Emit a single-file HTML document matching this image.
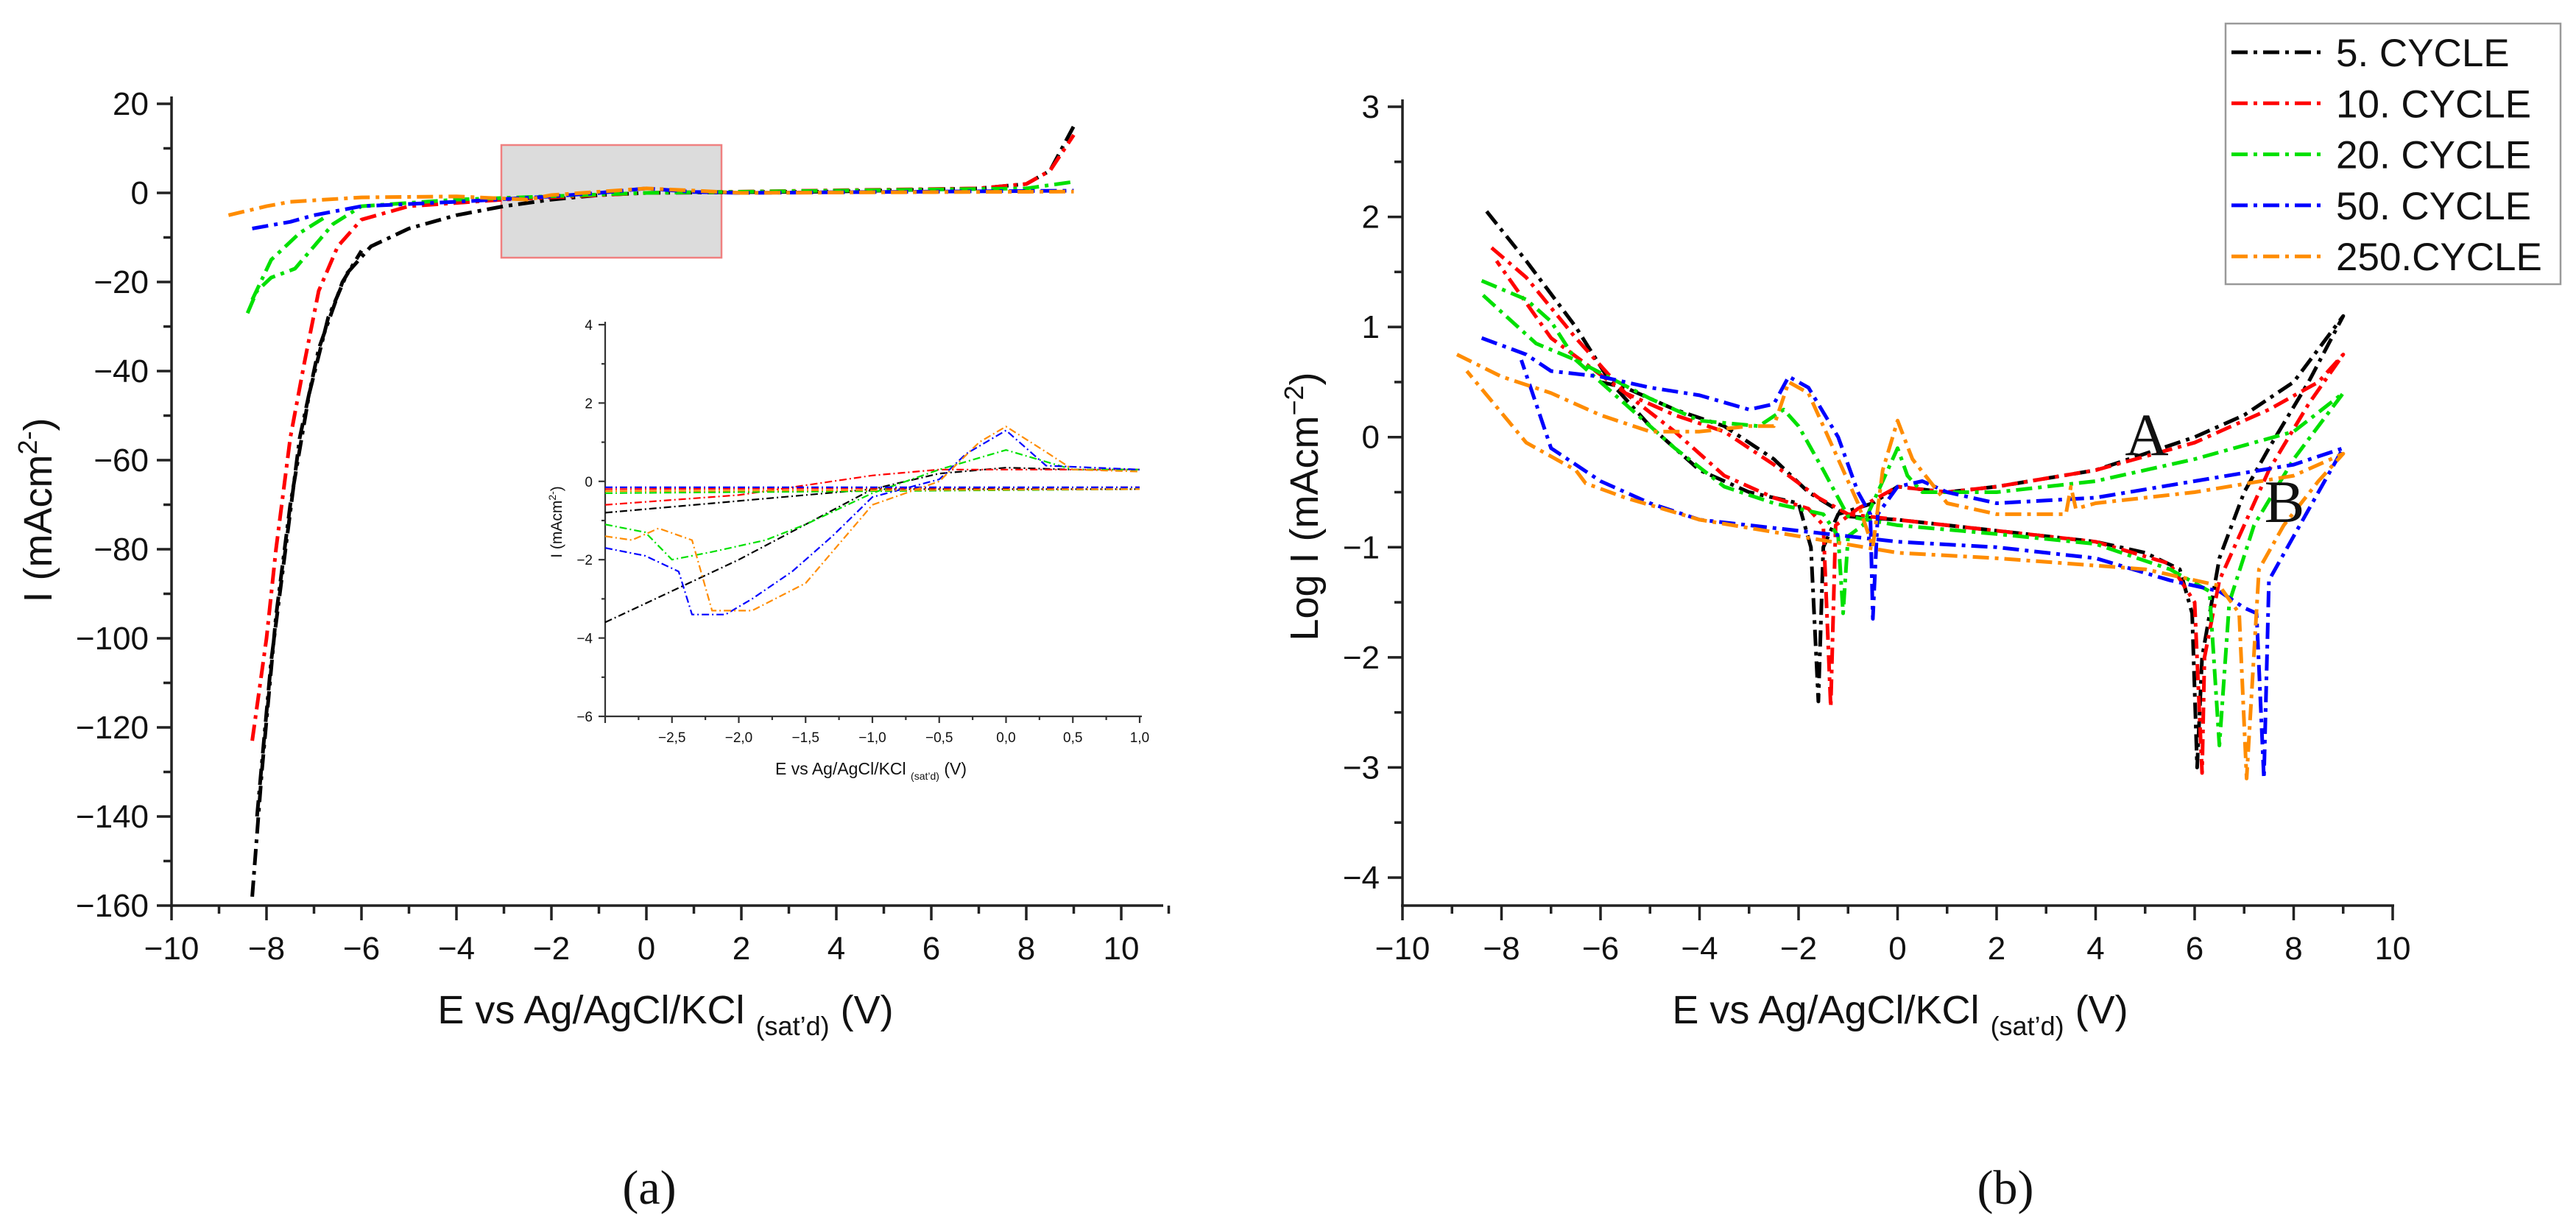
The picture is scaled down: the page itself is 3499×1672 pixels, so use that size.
<!DOCTYPE html>
<html><head><meta charset="utf-8"><style>
html,body{margin:0;padding:0;background:#fff;width:3499px;height:1672px;overflow:hidden}
svg{display:block}
</style></head><body>
<svg id="fig" width="3499" height="1672" viewBox="0 0 3499 1672" xmlns="http://www.w3.org/2000/svg" font-family="Liberation Sans, Arial, sans-serif">
<rect width="3499" height="1672" fill="#fff"/>
</svg>
<script>
// ---------- data ----------
const seriesNames = ["5. CYCLE","10. CYCLE","20. CYCLE","50. CYCLE","250.CYCLE"];
const seriesColors = ["#000000","#ff0000","#00e000","#0000ff","#ff8c00"];
// Panel (a): E (V) vs I (mAcm-2)
const aBlack = [[-8.3,-158],[-8.1,-130],[-7.8,-95],[-7.5,-70],[-7.1,-45],[-6.7,-28],[-6.3,-18],[-5.8,-12],[-5,-8],[-4,-5],[-3,-3],[-2,-1.5],[-1,-0.5],[0,0],[4,0.3],[7,1],[8,2],[8.5,5],[9,15]];
const aBlack2 = [[-8.2,-140],[-7.9,-105],[-7.6,-80],[-7.3,-55],[-6.9,-35],[-6.4,-20],[-6,-13]];
const aRed = [[-8.3,-123],[-8,-100],[-7.8,-80],[-7.5,-55],[-7.2,-38],[-6.9,-22],[-6.5,-12],[-6,-6],[-5,-3],[-3,-1.5],[0,0],[7,1],[8,2],[8.5,5],[9,13]];
const aGreen = [[-8.4,-27],[-8.2,-22],[-7.9,-19],[-7.4,-17],[-7,-12],[-6.6,-7],[-6,-3],[-4,-1.5],[0,0],[8,1],[9,2.5]];
const aGreen2 = [[-8.3,-24],[-7.9,-15],[-7.3,-9],[-6.7,-5]];
const aBlue = [[-8.3,-8],[-7.5,-6.5],[-7,-5],[-6,-3],[-4,-2],[-2,-0.8],[-1,0],[0,1],[1,0.2],[2,0],[9,0.5]];
const aOrange = [[-8.8,-5],[-8,-3],[-7.5,-2],[-6,-1],[-4,-0.8],[-2.5,-1.5],[-2,-0.5],[0,1],[2,0],[9,0.3]];
// Inset (a)
const iBlack = [[-3,-3.6],[-2.5,-2.8],[-2,-2.0],[-1.5,-1.1],[-1,-0.2],[-0.5,0.2],[0,0.35],[0.5,0.3],[1,0.3]];
const iBlack2 = [[-3,-0.8],[-2,-0.5],[-1,-0.2],[1,-0.2]];
const iRed = [[-3,-0.6],[-2,-0.35],[-1.5,-0.1],[-1,0.15],[-0.5,0.3],[1,0.3]];
const iRed2 = [[-3,-0.2],[1,-0.15]];
const iGreen = [[-3,-1.1],[-2.7,-1.3],[-2.5,-2.0],[-2.2,-1.8],[-1.8,-1.5],[-1.5,-1.1],[-1,-0.3],[-0.5,0.3],[0,0.8],[0.3,0.5],[0.5,0.3],[1,0.3]];
const iGreen2 = [[-3,-0.3],[1,-0.2]];
const iBlue = [[-3,-1.7],[-2.7,-1.9],[-2.45,-2.3],[-2.35,-3.4],[-2.1,-3.4],[-1.9,-3.0],[-1.6,-2.3],[-1.3,-1.4],[-1,-0.4],[-0.5,0.05],[-0.3,0.7],[0,1.3],[0.3,0.4],[1,0.3]];
const iBlue2 = [[-3,-0.15],[1,-0.15]];
const iOrange = [[-3,-1.4],[-2.8,-1.5],[-2.6,-1.2],[-2.35,-1.5],[-2.2,-3.3],[-1.9,-3.3],[-1.5,-2.6],[-1,-0.6],[-0.5,0],[-0.2,1.0],[0,1.4],[0.3,0.75],[0.5,0.3],[1,0.25]];
const iOrange2 = [[-3,-0.25],[1,-0.2]];
// Panel (b): E vs log I
const bBlack = [[-8.3,2.05],[-7.5,1.6],[-6.5,1.0],[-5.8,0.5],[-5,0.1],[-4,-0.3],[-3,-0.5],[-2,-0.6],[-1.75,-1.0],[-1.6,-2.4],[-1.5,-1.0],[-1.2,-0.7],[-0.5,-0.6],[0,-0.45],[1,-0.5],[2,-0.45],[4,-0.3],[5,-0.15],[6,0],[7,0.2],[8,0.5],[9,1.1],[8.3,0.5],[7.5,-0.1],[7,-0.5],[6.5,-1.1],[6.15,-2.0],[6.05,-3.0],[5.95,-1.6],[5.7,-1.2],[5,-1.05],[4,-0.95],[2,-0.85],[0,-0.75],[-1,-0.72],[-1.8,-0.5],[-2.5,-0.2],[-3.5,0.1],[-4.5,0.25],[-5.5,0.45],[-6,0.5]];
const bRed = [[-8.2,1.72],[-7.5,1.45],[-6.5,0.9],[-5.5,0.4],[-4.5,0.05],[-3.5,-0.35],[-2.5,-0.55],[-1.8,-0.65],[-1.5,-0.8],[-1.35,-2.45],[-1.25,-0.8],[-0.8,-0.65],[0,-0.45],[1,-0.5],[2,-0.45],[4,-0.3],[6,-0.05],[7.5,0.25],[8.5,0.5],[9,0.75],[8.3,0.3],[7.5,-0.3],[7,-0.8],[6.5,-1.3],[6.2,-2.0],[6.15,-3.05],[6.0,-1.5],[5.5,-1.15],[4,-0.95],[2,-0.85],[0,-0.75],[-1,-0.7],[-1.6,-0.55],[-2.5,-0.25],[-3.5,0.05],[-4.5,0.2],[-5.5,0.4],[-7,0.9],[-8.1,1.6]];
const bGreen = [[-8.4,1.42],[-7.5,1.25],[-7,1.05],[-6.5,0.7],[-5.5,0.3],[-4.5,-0.1],[-3.5,-0.45],[-2.5,-0.6],[-1.5,-0.7],[-1.2,-0.9],[-1.1,-1.6],[-1.0,-0.9],[-0.7,-0.8],[-0.3,-0.4],[0,-0.1],[0.2,-0.35],[0.5,-0.5],[2,-0.5],[4,-0.4],[6,-0.2],[8,0.05],[9,0.4],[8,-0.2],[7.2,-0.8],[6.7,-1.5],[6.5,-2.8],[6.3,-1.4],[5.5,-1.2],[4,-0.97],[2,-0.88],[0,-0.8],[-1,-0.72],[-1.5,-0.3],[-2,0.1],[-2.3,0.25],[-2.8,0.1],[-4,0.15],[-5,0.35],[-6.5,0.7],[-7.3,0.85],[-8.4,1.3]];
const bBlue = [[-8.4,0.9],[-7.5,0.75],[-7,0.6],[-6,0.55],[-5,0.45],[-4,0.38],[-3,0.25],[-2.5,0.3],[-2.2,0.55],[-1.8,0.45],[-1.2,0],[-0.8,-0.5],[-0.55,-0.7],[-0.5,-1.65],[-0.4,-0.7],[0,-0.45],[0.5,-0.4],[1,-0.5],[2,-0.6],[4,-0.55],[6,-0.4],[8,-0.25],[9,-0.1],[8.5,-0.5],[8,-0.9],[7.5,-1.3],[7.4,-3.1],[7.25,-1.6],[7,-1.55],[6.5,-1.4],[5.5,-1.3],[4,-1.1],[2,-1.0],[0,-0.95],[-2,-0.85],[-4,-0.75],[-5,-0.6],[-6,-0.4],[-7,-0.1],[-7.3,0.3],[-7.6,0.7]];
const bOrange = [[-8.9,0.75],[-8,0.55],[-7,0.4],[-6,0.2],[-5,0.05],[-4,0.05],[-3,0.1],[-2.5,0.1],[-2.2,0.5],[-1.8,0.4],[-1.2,-0.2],[-0.8,-0.6],[-0.5,-1.0],[-0.3,-0.3],[0,0.15],[0.3,-0.2],[1,-0.6],[2,-0.7],[3.4,-0.7],[3.5,-0.45],[3.6,-0.65],[4,-0.6],[6,-0.5],[8,-0.35],[9,-0.15],[8.5,-0.4],[7.8,-0.8],[7.3,-1.2],[7.05,-3.1],[6.9,-1.6],[6.5,-1.35],[5,-1.2],[2,-1.1],[0,-1.05],[-2,-0.9],[-4,-0.75],[-5.5,-0.55],[-6.3,-0.42],[-6.5,-0.3],[-7.5,-0.05],[-8.7,0.6]];
const aTicksX = [-10,-8,-6,-4,-2,0,2,4,6,8,10];
const aTicksY = [20,0,-20,-40,-60,-80,-100,-120,-140,-160];
const bTicksY = [3,2,1,0,-1,-2,-3,-4];
const iTicksX = ["-2,5","-2,0","-1,5","-1,0","-0,5","0,0","0,5","1,0"];
const iTicksY = [4,2,0,-2,-4,-6];

// ---------- drawing ----------
const NS="http://www.w3.org/2000/svg";
const svg=document.getElementById('fig');
function mk(tag,attrs,parent){const e=document.createElementNS(NS,tag);for(const k in attrs)e.setAttribute(k,attrs[k]);(parent||svg).appendChild(e);return e;}
function fmt(v){return String(v).replace('-','\u2212');}
function axisFns(x0,x1,px0,px1,y0,y1,py0,py1){
  return {sx:v=>px0+(v-x0)/(x1-x0)*(px1-px0), sy:v=>py0+(v-y0)/(y1-y0)*(py1-py0)};
}
function drawLine(g,pts,ax,color,w,dash,name){
  const d=pts.map((p,i)=>(i?'L':'M')+ax.sx(p[0]).toFixed(1)+' '+ax.sy(p[1]).toFixed(1)).join(' ');
  const p=mk('path',{d:d,fill:'none',stroke:color,'stroke-width':w,'stroke-dasharray':dash,'stroke-linejoin':'round'},g);
  
  
}
function text(g,x,y,s,size,anchor,extra){const t=mk('text',Object.assign({x:x,y:y,'font-size':size,'text-anchor':anchor||'middle',fill:'#111'},extra||{}),g);t.textContent=s;return t;}

// Panel a
const ga=mk('g',{});


const AX0=233, AX1=1523, AY0=141, AY1=1230;
const A=axisFns(-10,10,AX0,AX1,20,-160,AY0,AY1);
mk('line',{x1:AX0,y1:AY0-10,x2:AX0,y2:AY1+2,stroke:'#222','stroke-width':3.5},ga);
mk('line',{x1:AX0-2,y1:AY1,x2:1580,y2:AY1,stroke:'#222','stroke-width':3.5},ga);
for(let v=-10;v<=11;v+=1){const x=A.sx(v);const maj=v%2===0;mk('line',{x1:x,y1:AY1,x2:x,y2:AY1+(maj?20:11),stroke:'#222','stroke-width':3.5},ga);}
aTicksX.forEach(v=>{const t=text(ga,A.sx(v),1303,fmt(v),44);});
for(let v=20;v>=-160;v-=10){const y=A.sy(v);const maj=v%20===0;mk('line',{x1:AX0,y1:y,x2:AX0-(maj?20:11),y2:y,stroke:'#222','stroke-width':3.5},ga);}
aTicksY.forEach(v=>{const t=text(ga,202,A.sy(v)+15,fmt(v),44,'end');});
const ayl=text(ga,0,0,'',54,'middle',{transform:'translate(70,693) rotate(-90)'});
ayl.innerHTML='I (mAcm<tspan dy="-20" font-size="36">2-</tspan><tspan dy="20">)</tspan>';

const axl=text(ga,904,1390,'',54);
axl.innerHTML='E vs Ag/AgCl/KCl <tspan font-size="36" dy="16">(sat\u2019d)</tspan><tspan dy="-16"> (V)</tspan>';

const zr=mk('rect',{x:681,y:197,width:299,height:153,fill:'#dcdcdc',stroke:'#f08080','stroke-width':2.5},ga);

const DA='22 8 5 8';
[[aBlack,0],[aBlack2,0],[aRed,1],[aGreen,2],[aGreen2,2],[aBlue,3],[aOrange,4]].forEach(([d,c])=>drawLine(ga,d,A,seriesColors[c],5,DA,'series-a-'+c));

// Inset
const gi=mk('g',{});


const IX0=822, IX1=1548, IY0=441, IY1=973;
const I=axisFns(-3,1,IX0,IX1,4,-6,IY0,IY1);
mk('line',{x1:IX0,y1:IY0-4,x2:IX0,y2:IY1+1,stroke:'#333','stroke-width':2.2},gi);
mk('line',{x1:IX0-1,y1:IY1,x2:IX1+3,y2:IY1,stroke:'#333','stroke-width':2.2},gi);
for(let v=-3;v<=1.001;v+=0.25){const x=I.sx(v);const maj=Math.abs(v*2-Math.round(v*2))<1e-6;mk('line',{x1:x,y1:IY1,x2:x,y2:IY1+(maj?9:5),stroke:'#333','stroke-width':2.2},gi);}
iTicksX.forEach((s,i)=>{const t=text(gi,I.sx(-2.5+0.5*i),1008,s.replace('-','\u2212'),19);});
for(let v=4;v>=-6;v-=1){const y=I.sy(v);mk('line',{x1:IX0,y1:y,x2:IX0-(v%2===0?9:5),y2:y,stroke:'#333','stroke-width':2.2},gi);}
iTicksY.forEach(v=>{const t=text(gi,805,I.sy(v)+7,fmt(v),19,'end');});
const iyl=text(gi,0,0,'',21,'middle',{transform:'translate(763,709) rotate(-90)'});
iyl.innerHTML='I (mAcm<tspan dy="-8" font-size="14">2-</tspan><tspan dy="8">)</tspan>';

const ixl=text(gi,1183,1052,'',23);
ixl.innerHTML='E vs Ag/AgCl/KCl <tspan font-size="14" dy="7">(sat\u2019d)</tspan><tspan dy="-7"> (V)</tspan>';

const DI='10 4 2 4';
[[iBlack,0],[iBlack2,0],[iRed,1],[iRed2,1],[iGreen,2],[iGreen2,2],[iBlue,3],[iBlue2,3],[iOrange,4],[iOrange2,4]].forEach(([d,c])=>drawLine(gi,d,I,seriesColors[c],2.2,DI,'inset-series-'+c));

// Panel b
const gb=mk('g',{});


const BX0=1905, BX1=3250, BY0=145, BY1=1192, BAX=1230;
const B=axisFns(-10,10,BX0,BX1,3,-4,BY0,BY1);
mk('line',{x1:BX0,y1:BY0-10,x2:BX0,y2:BAX+2,stroke:'#222','stroke-width':3.5},gb);
mk('line',{x1:BX0-2,y1:BAX,x2:BX1+2,y2:BAX,stroke:'#222','stroke-width':3.5},gb);
for(let v=-10;v<=10;v+=1){const x=B.sx(v);const maj=v%2===0;mk('line',{x1:x,y1:BAX,x2:x,y2:BAX+(maj?20:11),stroke:'#222','stroke-width':3.5},gb);}
aTicksX.forEach(v=>{const t=text(gb,B.sx(v),1303,fmt(v),44);});
for(let v=3;v>=-4;v-=0.5){const y=B.sy(v);const maj=Number.isInteger(v);mk('line',{x1:BX0,y1:y,x2:BX0-(maj?20:11),y2:y,stroke:'#222','stroke-width':3.5},gb);}
bTicksY.forEach(v=>{const t=text(gb,1874,B.sy(v)+15,fmt(v),44,'end');});
const byl=text(gb,0,0,'',54,'middle',{transform:'translate(1790,688) rotate(-90)'});
byl.innerHTML='Log I (mAcm<tspan dy="-20" font-size="36">\u22122</tspan><tspan dy="20">)</tspan>';

const bxl=text(gb,2581,1390,'',54);
bxl.innerHTML='E vs Ag/AgCl/KCl <tspan font-size="36" dy="16">(sat\u2019d)</tspan><tspan dy="-16"> (V)</tspan>';

[[bBlack,0],[bRed,1],[bGreen,2],[bBlue,3],[bOrange,4]].forEach(([d,c])=>drawLine(gb,d,B,seriesColors[c],5,DA,'series-b-'+c));
const la=text(gb,2916,618,'A',82,'middle',{'font-family':'Liberation Serif, serif'});

const lb=text(gb,3103,709,'B',82,'middle',{'font-family':'Liberation Serif, serif'});


// Legend
const gl=mk('g',{});


mk('rect',{x:3023,y:32,width:455,height:354,fill:'#fff',stroke:'#999','stroke-width':2.5},gl);
seriesNames.forEach((n,i)=>{
  const y=71+i*69.3;
  const e=mk('g',{},gl);
  
  
  mk('line',{x1:3031,y1:y,x2:3154,y2:y,stroke:seriesColors[i],'stroke-width':5,'stroke-dasharray':DA},e);
  text(e,3173,y+19,n,53,'start');
});

// subfigure labels
const sa=text(svg,882,1635,'(a)',66,'middle',{'font-family':'Liberation Serif, serif'});

const sb=text(svg,2724,1635,'(b)',66,'middle',{'font-family':'Liberation Serif, serif'});

</script>
</body></html>
